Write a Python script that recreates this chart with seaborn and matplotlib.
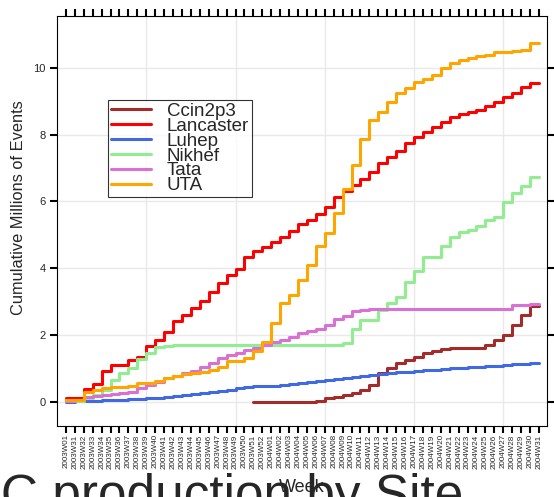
import numpy as np
import pandas as pd
import matplotlib
matplotlib.use("Agg")
import matplotlib.pyplot as plt
import seaborn as sns

# Week categories on the x axis
weeks = ["2003W01"] + [f"2003W{w:02d}" for w in range(31, 53)] + [f"2004W{w:02d}" for w in range(1, 32)]

sites = ["Ccin2p3", "Lancaster", "Luhep", "Nikhef", "Tata", "UTA"]
site_colors = ["#A52A2A", "#FF0000", "#4169E1", "#90EE90", "#DA70D6", "#FFA500"]

nan = np.nan
# Cumulative millions of events per week, one list per site
ccin2p3 = [nan] * 21 + [0.0, 0.0, 0.0, 0.0, 0.0, 0.0, 0.0, 0.0, 0.03, 0.10, 0.15, 0.20,
                        0.25, 0.35, 0.50, 0.85, 1.00, 1.15, 1.25, 1.35, 1.45, 1.52, 1.58,
                        1.60, 1.60, 1.60, 1.60, 1.70, 1.85, 2.00, 2.30, 2.60, 2.85]
lancaster = [0.12, 0.12, 0.12, 0.37, 0.53, 0.92, 1.10, 1.10, 1.25, 1.34, 1.67, 1.84, 2.10,
             2.41, 2.60, 2.81, 3.02, 3.29, 3.55, 3.79, 3.97, 4.33, 4.50, 4.62, 4.78, 4.92,
             5.10, 5.31, 5.44, 5.61, 5.84, 6.12, 6.32, 6.49, 6.67, 6.89, 7.14, 7.32, 7.52,
             7.74, 7.92, 8.07, 8.24, 8.37, 8.51, 8.61, 8.68, 8.73, 8.85, 8.98, 9.13, 9.25,
             9.41, 9.53]
luhep = [0.00, 0.00, 0.01, 0.02, 0.03, 0.04, 0.05, 0.06, 0.07, 0.08, 0.10, 0.12, 0.14,
         0.17, 0.19, 0.22, 0.25, 0.28, 0.32, 0.36, 0.40, 0.43, 0.46, 0.47, 0.48, 0.50,
         0.53, 0.56, 0.59, 0.62, 0.65, 0.68, 0.71, 0.74, 0.77, 0.80, 0.83, 0.86, 0.88,
         0.90, 0.92, 0.94, 0.96, 0.98, 1.00, 1.02, 1.04, 1.05, 1.06, 1.08, 1.10, 1.12,
         1.14, 1.15]
nikhef = [0.02, 0.02, 0.02, 0.10, 0.20, 0.35, 0.65, 0.85, 1.00, 1.27, 1.45, 1.65, 1.68,
          1.69, 1.70, 1.70, 1.70, 1.70, 1.70, 1.70, 1.70, 1.70, 1.70, 1.70, 1.70, 1.70,
          1.70, 1.70, 1.70, 1.70, 1.70, 1.70, 1.75, 2.18, 2.45, 2.45, 2.75, 2.96, 3.14,
          3.57, 3.92, 4.34, 4.34, 4.66, 4.92, 5.09, 5.14, 5.26, 5.44, 5.54, 5.99, 6.26,
          6.46, 6.72]
tata = [0.03, 0.03, 0.05, 0.15, 0.17, 0.20, 0.23, 0.25, 0.30, 0.40, 0.50, 0.60, 0.70,
        0.77, 0.85, 0.93, 1.05, 1.15, 1.30, 1.40, 1.45, 1.55, 1.60, 1.70, 1.80, 1.85,
        1.93, 2.05, 2.13, 2.17, 2.30, 2.47, 2.57, 2.70, 2.75, 2.77, 2.77, 2.77, 2.77,
        2.77, 2.78, 2.78, 2.78, 2.78, 2.78, 2.78, 2.78, 2.78, 2.78, 2.78, 2.78, 2.88,
        2.90, 2.91]
uta = [0.05, 0.05, 0.05, 0.30, 0.35, 0.40, 0.44, 0.45, 0.48, 0.57, 0.57, 0.62, 0.72,
       0.77, 0.82, 0.87, 0.90, 0.95, 1.05, 1.22, 1.22, 1.32, 1.53, 1.80, 2.35, 2.95,
       3.19, 3.64, 4.09, 4.66, 5.06, 5.64, 6.36, 7.09, 7.87, 8.45, 8.68, 8.98, 9.25,
       9.38, 9.58, 9.65, 9.78, 9.98, 10.13, 10.23, 10.28, 10.35, 10.38, 10.46, 10.48,
       10.50, 10.53, 10.75]

series = dict(zip(sites, [ccin2p3, lancaster, luhep, nikhef, tata, uta]))

rows = []
for site, vals in series.items():
    for i, v in enumerate(vals):
        if not np.isnan(v):
            rows.append({"week": i, "events": v, "site": site})
df = pd.DataFrame(rows)

sns.set_theme(style="white")
plt.rcParams["font.family"] = ["Liberation Sans", "DejaVu Sans"]

fig = plt.figure(figsize=(5.54, 4.97), dpi=100)
ax = fig.add_axes([57 / 554, 1 - 426 / 497, 490 / 554, 410 / 497])

# light background grid
for gx in [9, 19, 29, 39, 49]:
    ax.axvline(gx, color="#e9e9e9", lw=1.0, zorder=0)
for gy in range(0, 11, 2):
    ax.axhline(gy, color="#e9e9e9", lw=1.0, zorder=0)

sns.lineplot(data=df, x="week", y="events", hue="site", hue_order=sites,
             palette=dict(zip(sites, site_colors)), estimator=None, sort=False,
             drawstyle="steps-pre", linewidth=2.2, ax=ax, legend=True)

ax.set_xlim(-1.0, 53.9)
ax.set_ylim(-0.73, 11.55)
ax.set_xticks(range(len(weeks)))
ax.set_xticklabels(weeks, rotation=90, fontsize=5.8)
ax.set_yticks(range(0, 11, 2))
ax.tick_params(axis="x", direction="out", length=5, width=1.5, color="black",
               top=True, bottom=True, labeltop=False, pad=1)
ax.tick_params(axis="y", direction="out", length=5, width=1.5, color="black",
               left=True, right=True, labelright=False, labelsize=8, pad=3)
for s in ax.spines.values():
    s.set_color("black")
    s.set_linewidth(0.8)

ax.set_xlabel("")
ax.set_ylabel("Cumulative Millions of Events", fontsize=11.8)
ax.yaxis.set_label_coords(-0.064, 0.532)

handles, labels = ax.get_legend_handles_labels()
leg = ax.legend(handles, labels, loc="upper left", bbox_to_anchor=(0.104, 0.795),
                borderaxespad=0, fontsize=13.5, frameon=True, fancybox=False,
                labelspacing=-0.12, handlelength=2.13, handletextpad=0.85,
                borderpad=0.15)
leg.get_frame().set_edgecolor("black")
leg.get_frame().set_linewidth(0.8)
for line in leg.get_lines():
    line.set_linewidth(2.2)

fig.text(302 / 554, 1 - 487 / 497, "Week", ha="center", va="center", fontsize=13)
fig.text(211 / 554, 1 - 511 / 497, "MC production by Site", ha="center",
         va="baseline", fontsize=37)

fig.savefig("out.png", dpi=100)
